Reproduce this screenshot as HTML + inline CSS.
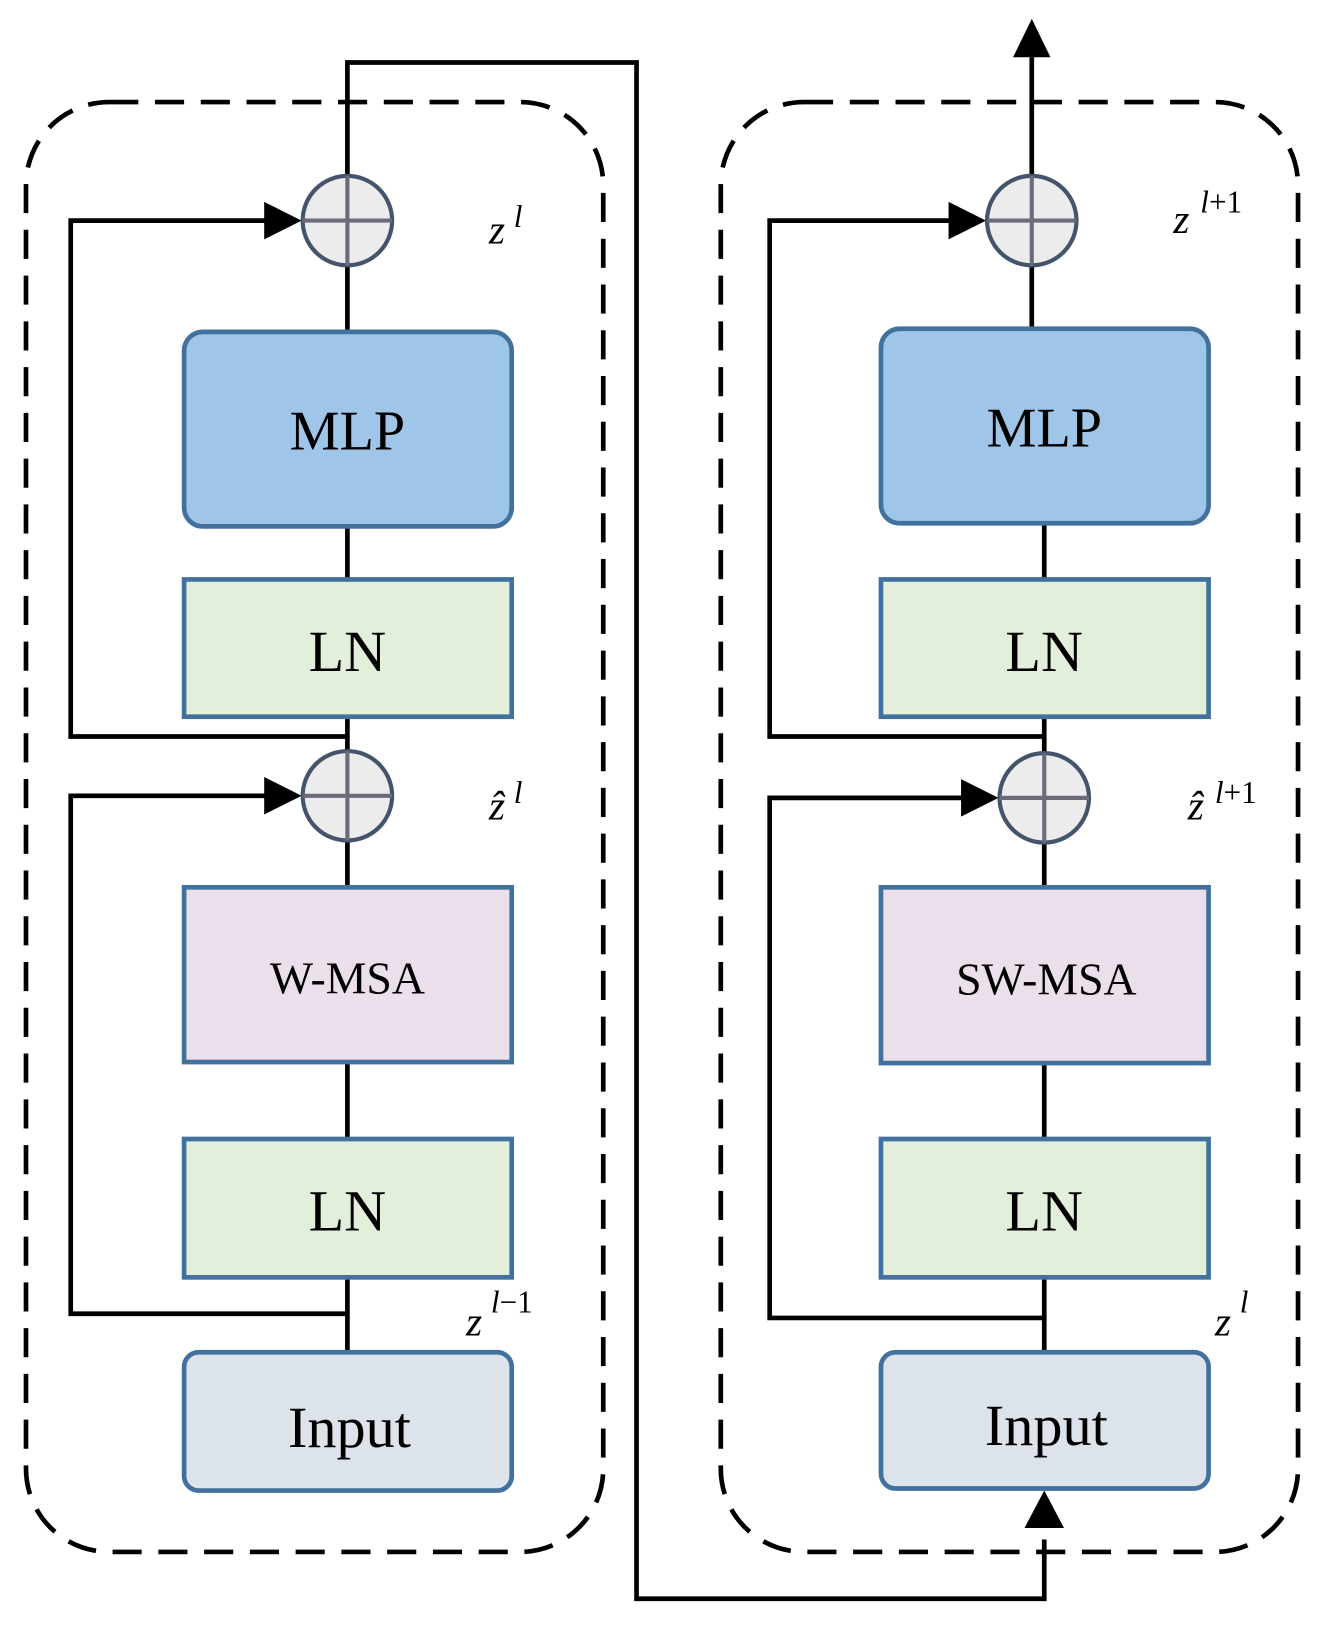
<!DOCTYPE html>
<html><head><meta charset="utf-8"><style>html,body{margin:0;padding:0;background:#fff}svg{display:block}</style></head>
<body>
<svg width="1323" height="1629" viewBox="0 0 1272 1566" xmlns="http://www.w3.org/2000/svg" font-family="'Liberation Serif', serif">
<g fill="none" stroke="#000" stroke-width="4.5" stroke-dasharray="28,16">
<rect x="25" y="98" width="555" height="1394" rx="80"/>
<rect x="693" y="98" width="555" height="1394" rx="80"/>
</g>
<g fill="none" stroke="#000" stroke-width="4.5">
<polyline points="334,168 334,60 612,60 612,1537 1004,1537 1004,1480"/>
<line x1="334" y1="256" x2="334" y2="319"/>
<line x1="334" y1="506" x2="334" y2="557"/>
<line x1="334" y1="689" x2="334" y2="721"/>
<line x1="334" y1="809" x2="334" y2="853"/>
<line x1="334" y1="1021" x2="334" y2="1095"/>
<line x1="334" y1="1228" x2="334" y2="1300"/>
<polyline points="334,708 68,708 68,212 256,212"/>
<polyline points="334,1263 68,1263 68,765 256,765"/>
<line x1="992" y1="168" x2="992" y2="55"/>
<line x1="992" y1="256" x2="992" y2="316"/>
<line x1="1004" y1="503" x2="1004" y2="557"/>
<line x1="1004" y1="689" x2="1004" y2="723"/>
<line x1="1004" y1="811" x2="1004" y2="853"/>
<line x1="1004" y1="1022" x2="1004" y2="1095"/>
<line x1="1004" y1="1228" x2="1004" y2="1300"/>
<polyline points="1004,708 740,708 740,212 914,212"/>
<polyline points="1004,1267 740,1267 740,767 926,767"/>
</g>
<g fill="#000">
<path d="M254,194 L290,212 L254,230z"/>
<path d="M254,747 L290,765 L254,783z"/>
<path d="M912,194 L948,212 L912,230z"/>
<path d="M924,749 L960,767 L924,785z"/>
<path d="M974,55 L992,18 L1010,55z"/>
<path d="M985,1469 L1004,1433 L1023,1469z"/>
</g>
<g stroke="#41719c" stroke-width="4.5">
<rect x="177" y="319" width="315" height="187" rx="18" fill="#9fc5e8"/>
<rect x="177" y="557" width="315" height="132" fill="#e2efda"/>
<rect x="177" y="853" width="315" height="168" fill="#eadfea"/>
<rect x="177" y="1095" width="315" height="133" fill="#e2efda"/>
<rect x="177" y="1300" width="315" height="133" rx="14" fill="#dce3ea"/>
<rect x="847" y="316" width="315" height="187" rx="18" fill="#9fc5e8"/>
<rect x="847" y="557" width="315" height="132" fill="#e2efda"/>
<rect x="847" y="853" width="315" height="169" fill="#eadfea"/>
<rect x="847" y="1095" width="315" height="133" fill="#e2efda"/>
<rect x="847" y="1300" width="315" height="131" rx="14" fill="#dce3ea"/>
</g>
<g fill="#ececec" stroke="#44546a" stroke-width="4">
<circle cx="334" cy="212" r="43"/><circle cx="334" cy="765" r="43"/>
<circle cx="992" cy="212" r="43"/><circle cx="1004" cy="767" r="43"/>
</g>
<g stroke="#6b6b7b" stroke-width="4">
<path d="M291,212H377M334,169V255M291,765H377M334,722V808M949,212H1035M992,169V255M961,767H1047M1004,724V810"/>
</g>
<g fill="#000" text-anchor="middle">
<text x="334" y="432" font-size="54">MLP</text>
<text x="334" y="645" font-size="56">LN</text>
<text x="334" y="955" font-size="44">W-MSA</text>
<text x="334" y="1183" font-size="56">LN</text>
<text x="336" y="1391" font-size="56">Input</text>
<text x="1004" y="429" font-size="54">MLP</text>
<text x="1004" y="645" font-size="56">LN</text>
<text x="1006" y="956" font-size="44">SW-MSA</text>
<text x="1004" y="1183" font-size="56">LN</text>
<text x="1006" y="1389" font-size="56">Input</text>
</g>
<g fill="#000" font-style="italic">
<text x="470" y="234" font-size="40">z</text><text x="494" y="218" font-size="30">l</text>
<text x="470" y="788" font-size="40">ẑ</text><text x="494" y="772" font-size="30">l</text>
<text x="448" y="1284" font-size="40">z</text><text x="472" y="1262" font-size="30">l<tspan font-style="normal">−1</tspan></text>
<text x="1128" y="224" font-size="40">z</text><text x="1154" y="204" font-size="30">l<tspan font-style="normal">+1</tspan></text>
<text x="1142" y="788" font-size="40">ẑ</text><text x="1168" y="772" font-size="30">l<tspan font-style="normal">+1</tspan></text>
<text x="1168" y="1284" font-size="40">z</text><text x="1192" y="1262" font-size="30">l</text>
</g>
</svg>
</body></html>
